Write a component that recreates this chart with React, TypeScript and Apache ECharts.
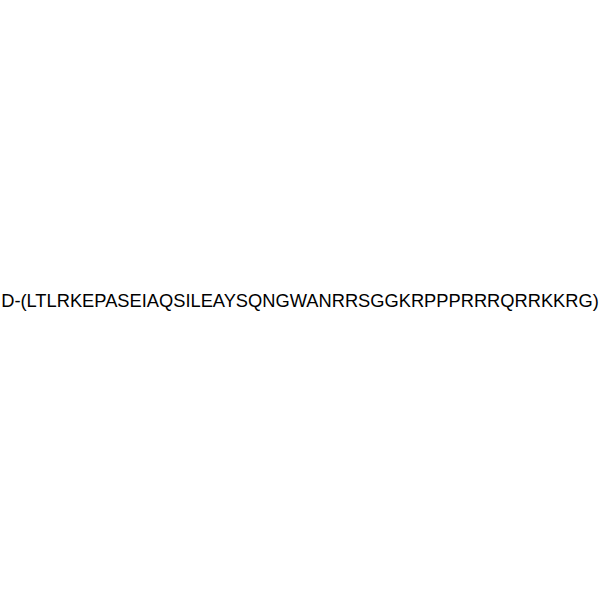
import React, { useEffect, useRef } from "react";
import * as echarts from "echarts";

const prefix = "D-";
const sequence = "LTLRKEPASEIAQSILEAYSQNGWANRRSGGKRPPPRRRQRRKKRG";
const label = `${prefix}(${sequence})`;

export default function App() {
  const ref = useRef<HTMLDivElement>(null);
  useEffect(() => {
    document.body.style.margin = "0";
    const chart = echarts.init(ref.current!, null, { renderer: "svg" });
    chart.setOption({
      animation: false,
      backgroundColor: "#ffffff",
      graphic: [
        {
          type: "text",
          x: 300,
          y: 300,
          style: {
            text: label,
            fill: "#000000",
            font: "18.3px 'Liberation Sans', Arial, sans-serif",
            align: "center",
            verticalAlign: "middle",
          },
        },
      ],
    });
    return () => chart.dispose();
  }, []);
  return <div ref={ref} style={{ width: 600, height: 600 }} />;
}
